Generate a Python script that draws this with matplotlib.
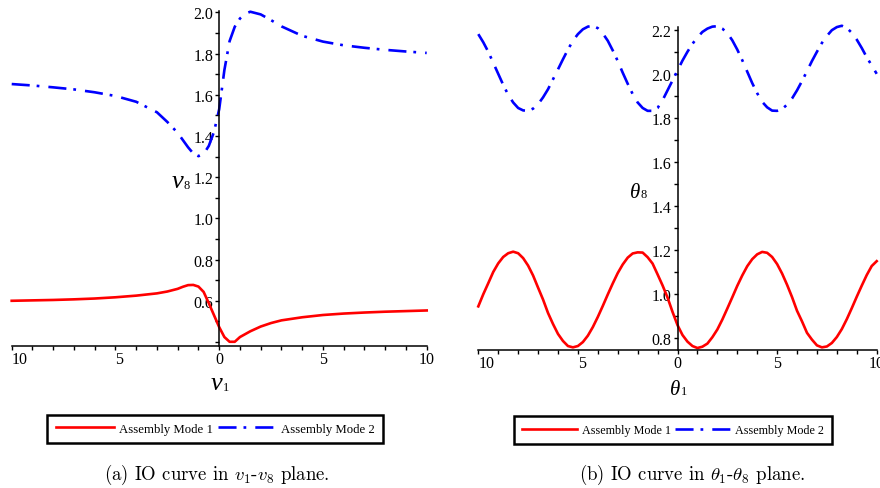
import matplotlib
matplotlib.use("Agg")
import matplotlib.pyplot as plt
from matplotlib.ticker import MultipleLocator

plt.rcParams['font.family'] = ['Liberation Serif', 'DejaVu Serif']
plt.rcParams['mathtext.fontset'] = 'cm'
plt.rcParams['lines.scale_dashes'] = False

# ---------------- data ----------------
v1_mode1 = [-10, -9, -8, -7, -6, -5, -4, -3, -2.5, -2, -1.75, -1.5, -1.25, -1, -0.75,
            -0.5, -0.25, 0, 0.25, 0.5, 0.75, 1, 1.5, 2, 2.5, 3, 4, 5, 6, 7, 8, 9, 10]
v8_mode1 = [0.600, 0.602, 0.604, 0.607, 0.611, 0.617, 0.625, 0.636, 0.645, 0.658, 0.668,
            0.676, 0.677, 0.669, 0.643, 0.588, 0.530, 0.472, 0.424, 0.401, 0.401, 0.424,
            0.452, 0.475, 0.492, 0.505, 0.520, 0.531, 0.538, 0.543, 0.547, 0.550, 0.553]

v1_mode2 = [-10, -9, -8, -7, -6, -5, -4, -3, -2.5, -2, -1.75, -1.5, -1.25, -1, -0.75,
            -0.5, -0.25, 0, 0.25, 0.5, 0.75, 1, 1.25, 1.5, 2, 2.5, 3, 4, 5, 6, 7, 8, 9, 10]
v8_mode2 = [1.652, 1.645, 1.636, 1.626, 1.612, 1.594, 1.566, 1.515, 1.468, 1.415, 1.380,
            1.345, 1.315, 1.302, 1.312, 1.352, 1.420, 1.530, 1.720, 1.860, 1.930, 1.970,
            1.993, 2.003, 1.990, 1.962, 1.932, 1.886, 1.858, 1.840, 1.828, 1.818, 1.810, 1.803]

theta1 = [-10, -9.75, -9.5, -9.25, -9, -8.75, -8.5, -8.25, -8, -7.75, -7.5, -7.25, -7,
          -6.75, -6.5, -6.25, -6, -5.75, -5.5, -5.25, -5, -4.75, -4.5, -4.25, -4, -3.75,
          -3.5, -3.25, -3, -2.75, -2.5, -2.25, -2, -1.75, -1.5, -1.25, -1, -0.75, -0.5,
          -0.25, 0, 0.25, 0.5, 0.75, 1, 1.25, 1.5, 1.75, 2, 2.25, 2.5, 2.75, 3, 3.25, 3.5,
          3.75, 4, 4.25, 4.5, 4.75, 5, 5.25, 5.5, 5.75, 6, 6.25, 6.5, 6.75, 7, 7.25, 7.5,
          7.75, 8, 8.25, 8.5, 8.75, 9, 9.25, 9.5, 9.75, 10]
theta8_mode1 = [0.945, 1.000, 1.050, 1.101, 1.140, 1.169, 1.186, 1.193, 1.186, 1.164, 1.130,
                1.085, 1.030, 0.976, 0.915, 0.865, 0.820, 0.788, 0.765, 0.759, 0.765, 0.783,
                0.812, 0.851, 0.897, 0.947, 0.999, 1.049, 1.096, 1.135, 1.166, 1.185, 1.190,
                1.189, 1.168, 1.139, 1.090, 1.040, 0.985, 0.920, 0.860, 0.815, 0.785, 0.765,
                0.756, 0.762, 0.776, 0.805, 0.840, 0.885, 0.935, 0.986, 1.038, 1.085, 1.127,
                1.159, 1.181, 1.192, 1.188, 1.169, 1.137, 1.094, 1.043, 0.987, 0.925, 0.877,
                0.825, 0.794, 0.768, 0.759, 0.763, 0.779, 0.806, 0.842, 0.887, 0.937, 0.989,
                1.039, 1.087, 1.128, 1.150]
theta8_mode2 = [2.180, 2.143, 2.100, 2.050, 2.000, 1.950, 1.905, 1.870, 1.845, 1.834, 1.832,
                1.842, 1.862, 1.893, 1.930, 1.975, 2.020, 2.066, 2.110, 2.150, 2.180, 2.202,
                2.214, 2.218, 2.207, 2.183, 2.150, 2.106, 2.058, 2.005, 1.955, 1.908, 1.870,
                1.845, 1.832, 1.832, 1.845, 1.880, 1.925, 1.970, 2.015, 2.060, 2.100, 2.136,
                2.165, 2.190, 2.205, 2.214, 2.216, 2.205, 2.185, 2.152, 2.110, 2.062, 2.010,
                1.958, 1.912, 1.873, 1.848, 1.833, 1.832, 1.840, 1.860, 1.888, 1.925, 1.967,
                2.012, 2.058, 2.100, 2.140, 2.172, 2.198, 2.212, 2.218, 2.208, 2.186, 2.155,
                2.117, 2.075, 2.038, 2.000]

x_ticks = [-10, -5, 0, 5, 10]
x_ticklabels = ['10', '5', '0', '5', '10']
v8_ticks = [0.6, 0.8, 1.0, 1.2, 1.4, 1.6, 1.8, 2.0]
theta8_ticks = [0.8, 1.0, 1.2, 1.4, 1.6, 1.8, 2.0, 2.2]
legend_labels = ['Assembly Mode 1', 'Assembly Mode 2']
caption_a = r'(a) IO curve in $v_1$-$v_8$ plane.'
caption_b = r'(b) IO curve in $\theta_1$-$\theta_8$ plane.'

# ---------------- figure ----------------
W, H = 880, 489
fig = plt.figure(figsize=(8.8, 4.89), dpi=100)
fig.patch.set_facecolor('white')


def fx(px):
    return px / W


def fy(py):
    return 1 - py / H


ax1 = fig.add_axes([fx(11.7), fy(346.7), (426.7 - 11.7) / W, (346.7 - 11.7) / H])
ax2 = fig.add_axes([fx(478.3), fy(351.0), (876.7 - 478.3) / W, (351.0 - 28.3) / H])

RED = '#ff0000'
BLUE = '#0000ff'
DASHDOT = (0, (13, 5, 2, 6.5))
LW = 1.9

r1, = ax1.plot(v1_mode1, v8_mode1, color=RED, lw=LW, clip_on=False)
b1, = ax1.plot(v1_mode2, v8_mode2, color=BLUE, lw=LW, ls=DASHDOT, clip_on=False)
r2, = ax2.plot(theta1, theta8_mode1, color=RED, lw=LW, clip_on=False)
b2, = ax2.plot(theta1, theta8_mode2, color=BLUE, lw=LW, ls=DASHDOT, clip_on=False)


def style(ax, ylim, yticks):
    ax.set_xlim(-10, 10)
    ax.set_ylim(*ylim)
    ax.patch.set_alpha(0)
    ax.spines['left'].set_position(('data', 0))
    ax.spines['top'].set_visible(False)
    ax.spines['right'].set_visible(False)
    for s in ('left', 'bottom'):
        ax.spines[s].set_linewidth(1.1)
    ax.set_xticks(x_ticks)
    ax.set_xticklabels(x_ticklabels)
    ax.xaxis.set_minor_locator(MultipleLocator(1))
    ax.set_yticks(yticks)
    ax.set_yticklabels([f'{t:.1f}' for t in yticks])
    ax.yaxis.set_minor_locator(MultipleLocator(0.1))
    ax.tick_params(which='both', direction='out', length=2.6, width=1.0,
                   labelsize=11.5, color='black')
    ax.tick_params(axis='x', pad=1.2)
    ax.tick_params(axis='y', pad=1.8)
    # the negative labels sit just right of their ticks (minus sign not shown)
    for tick, val in zip(ax.xaxis.get_major_ticks(), x_ticks):
        if val < 0:
            tick.label1.set_horizontalalignment('left')


style(ax1, (0.382, 2.008), v8_ticks)
style(ax2, (0.747, 2.211), theta8_ticks)


def var_label(cx, base_y, base, sub, size, subsize, sub_dx, sub_dy=1.0):
    fig.text(fx(cx), fy(base_y), base, fontsize=size, style='italic',
             ha='center', va='baseline')
    fig.text(fx(cx + sub_dx), fy(base_y + sub_dy), sub, fontsize=subsize,
             ha='left', va='baseline')


var_label(178.0, 188.0, 'v', '8', 19, 9, 5.0)
var_label(216.3, 390.0, 'v', '1', 19, 9, 6.5)
var_label(634.7, 198.0, 'θ', '8', 15, 9, 5.5, 0.5)
var_label(675.3, 395.0, 'θ', '1', 15, 9, 5.5, 0.5)


# ---------------- legends ----------------
def make_legend(handles, cx, cy, size):
    leg = fig.legend(handles, legend_labels, loc='center',
                     bbox_to_anchor=(fx(cx), fy(cy)), ncol=2, frameon=True,
                     fancybox=False, edgecolor='black', framealpha=1,
                     handlelength=4.6, handletextpad=0.35, columnspacing=0.4,
                     borderpad=0.65, prop={'family': ['Liberation Serif'], 'size': size})
    leg.get_frame().set_linewidth(1.8)
    return leg


make_legend([r1, b1], 215.2, 429.9, 9.2)
make_legend([r2, b2], 673.0, 431.2, 8.7)

# ---------------- captions ----------------
fig.text(fx(216.5), fy(475), caption_a, fontsize=13.5, family='cmr10',
         ha='center', va='center')
fig.text(fx(692.0), fy(475), caption_b, fontsize=13.5, family='cmr10',
         ha='center', va='center')

fig.savefig('out.png', dpi=100, facecolor='white')
